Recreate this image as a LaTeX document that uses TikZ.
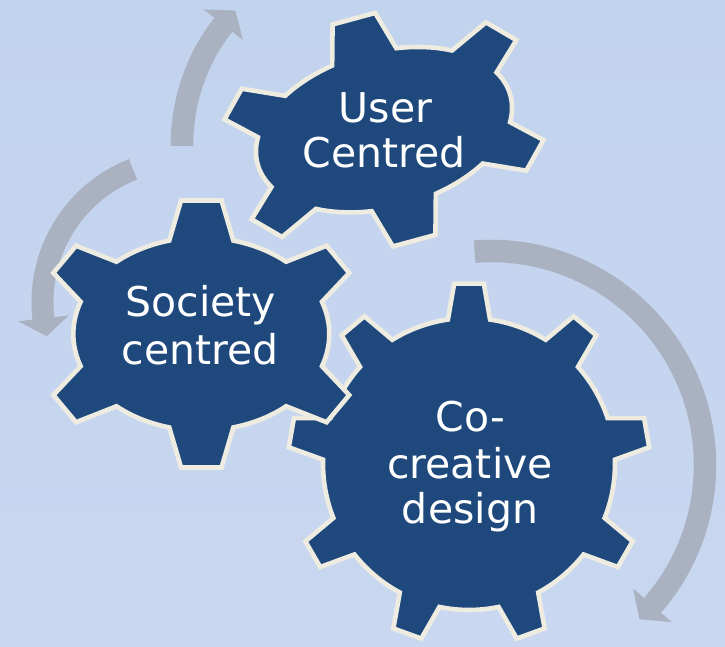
\documentclass[tikz,border=0pt]{standalone}
\usepackage{fontspec}
\setmainfont{DejaVu Sans}
\definecolor{bgtop}{HTML}{C2D3EE}
\definecolor{bgbot}{HTML}{C9D7F0}
\definecolor{gearblue}{HTML}{1F497D}
\definecolor{cream}{HTML}{EEECE1}
\definecolor{arrowgray}{HTML}{AAB2C2}
\tikzset{
  gearstyle/.style={draw=cream, line width=4.6pt, fill=gearblue, line join=miter},
  arrowstyle/.style={fill=arrowgray, draw=none},
  gtext/.style={text=white, inner sep=0pt, anchor=base, font=\fontsize{41}{46}\selectfont}
}
% #1 outer x rad, #2 outer y rad, #3 inner x rad, #4 inner y rad,
% #5 tip offset, #6 base offset, #7 tooth pairs, #8 first tooth angle
\newcommand\gearpath[8]{%
  \draw[gearstyle] ({#3*cos(#8-#6)},{#4*sin(#8-#6)})
    \foreach \ga/\gb in {#7} {
      -- ({#1*cos(\ga-#5)},{#2*sin(\ga-#5)})
      -- ({#1*cos(\ga+#5)},{#2*sin(\ga+#5)})
      -- ({#3*cos(\ga+#6)},{#4*sin(\ga+#6)})
      arc[start angle={\ga+#6}, end angle={\gb-#6}, x radius=#3pt, y radius=#4pt]
    } -- cycle;
}
% #1 mid radius, #2 half width, #3 tail angle, #4 head base angle, #5 tip angle, #6 head half width
\newcommand\arcarrow[6]{%
  \pgfmathsetmacro\aRo{#1+#2}%
  \pgfmathsetmacro\aRi{#1-#2}%
  \pgfmathsetmacro\aHo{#1+#6}%
  \pgfmathsetmacro\aHi{#1-#6}%
  \fill[arrowstyle] (#3:\aRo pt) arc[start angle=#3, end angle=#4, radius=\aRo pt]
    -- (#4:\aHo pt) -- (#5:#1pt) -- (#4:\aHi pt) -- (#4:\aRi pt)
    arc[start angle=#4, end angle=#3, radius=\aRi pt] -- cycle;
}
\begin{document}
\begin{tikzpicture}[x=1pt, y=1pt]
  \useasboundingbox (0,0) rectangle (725,647);
  \shade[top color=bgtop, bottom color=bgbot] (0,0) rectangle (725,647);
  % arrows
  \begin{scope}[shift={(491,182)}]
    \arcarrow{214}{11.25}{94.4}{-41}{-46.1}{25.5}
  \end{scope}
  \begin{scope}[shift={(185,345)}]
    \arcarrow{142.5}{11}{111.4}{186.6}{193.9}{25.5}
  \end{scope}
  \begin{scope}[shift={(376.5,502.5)}]
    \arcarrow{194.5}{11.3}{180.4}{142}{136.5}{25}
  \end{scope}
  % Co-creative gear (9 teeth)
  \begin{scope}[shift={(469,183)}]
    \gearpath{181}{181}{146}{146}{4.7}{8.3}{-70/-30,-30/10,10/50,50/90,90/130,130/170,170/210,210/250,250/290}{-70}
  \end{scope}
  % Society gear (6 teeth)
  \begin{scope}[shift={(201.3,313)}]
    \gearpath{166}{134.5}{128}{96.5}{7}{14.5}{-90/-34,-34/34,34/90,90/146,146/214,214/270}{-90}
  \end{scope}
  % User gear (6 teeth, rotated)
  \begin{scope}[shift={(384,517.3)}, rotate=15.2]
    \gearpath{169}{116}{131}{78}{7.5}{14.7}{-90/-34,-34/34,34/90,90/146,146/214,214/270}{-90}
  \end{scope}
  % texts
  \node[gtext] (ut1) at (385.5,524.3) {User};
  \node[gtext] (ut2) at (384.2,479.3) {Centred};
  \node[gtext] (st1) at (200.8,330.3) {Society};
  \node[gtext] (st2) at (200,282) {centred};
  \node[gtext] (ct1) at (470.3,215.3) {Co-};
  \node[gtext] (ct2) at (470,168.7) {creative};
  \node[gtext] (ct3) at (470,123) {design};
\end{tikzpicture}
\end{document}
